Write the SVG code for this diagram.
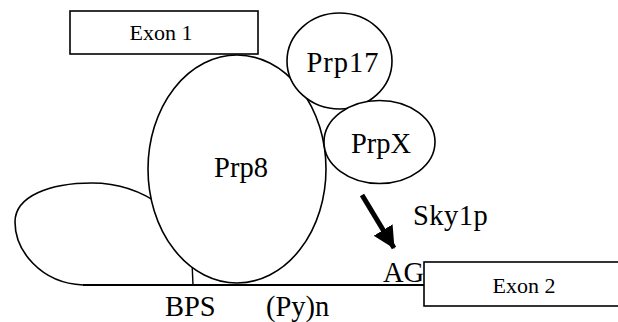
<svg xmlns="http://www.w3.org/2000/svg" width="618" height="322" viewBox="0 0 618 322">
  <style>
    .shape { fill: #fff; stroke: #000; stroke-width: 1.6; }
    .line { fill: none; stroke: #000; }
    .lbl { font-family: "Liberation Serif", "Times New Roman", serif; font-size: 28.5px; fill: #000; }
    .exon { font-family: "Liberation Serif", "Times New Roman", serif; font-size: 22px; fill: #000; text-anchor: middle; }
  </style>
  <defs>
    <marker id="head" markerUnits="userSpaceOnUse" markerWidth="26" markerHeight="24" refX="21" refY="11" orient="auto">
      <path d="M0,0 L22,11 L0,22 Z" fill="#000"/>
    </marker>
  </defs>
  <rect width="618" height="322" fill="#fff"/>

  <!-- intron lariat loop, tucked behind Prp8 -->
  <g id="lariat">
    <path class="line" stroke-width="1.6" d="M 83 285 C 40 283 15 250 15 222 C 15 196 50 183 92 183 C 120 183 143 192 162 206"/>
  </g>

  <g id="connectors">
    <!-- pre-mRNA strand -->
    <line class="line" x1="83" y1="285" x2="424" y2="285" stroke-width="2.2"/>
    <!-- branch point stem -->
    <line class="line" x1="192" y1="262" x2="193" y2="285" stroke-width="1.4"/>
    <!-- Sky1p action arrow -->
    <line class="line" x1="362" y1="195" x2="394" y2="248" stroke-width="5" marker-end="url(#head)"/>
  </g>

  <g id="exon1">
    <rect class="shape" x="70" y="11" width="188" height="43"/>
    <text class="exon" x="161" y="40">Exon 1</text>
  </g>

  <g id="prp8">
    <ellipse class="shape" cx="237" cy="169" rx="89" ry="114"/>
    <text class="lbl" x="241" y="177" text-anchor="middle">Prp8</text>
  </g>

  <g id="prp17">
    <ellipse class="shape" cx="339.5" cy="61" rx="52.5" ry="48"/>
    <text class="lbl" x="343" y="72" text-anchor="middle" letter-spacing="1">Prp17</text>
  </g>

  <g id="prpx">
    <ellipse class="shape" cx="379.5" cy="142" rx="55.5" ry="41.5"/>
    <text class="lbl" x="381" y="153" text-anchor="middle">PrpX</text>
  </g>

  <g id="exon2">
    <rect class="shape" x="424" y="262" width="210" height="44"/>
    <text class="exon" x="524" y="293">Exon 2</text>
  </g>

  <g id="labels">
    <text class="lbl" x="413" y="225" letter-spacing="0.5">Sky1p</text>
    <text class="lbl" x="383" y="282">AG</text>
    <text class="lbl" x="165" y="316">BPS</text>
    <text class="lbl" x="266" y="316">(Py)n</text>
  </g>
</svg>
